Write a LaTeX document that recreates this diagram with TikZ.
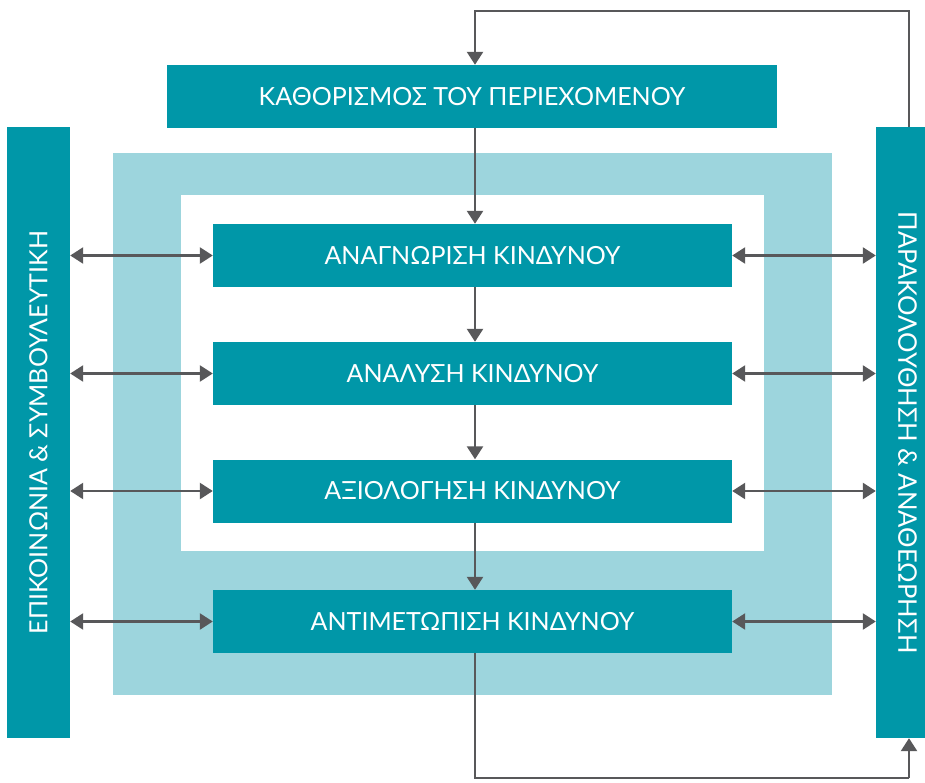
\documentclass[tikz,border=0pt]{standalone}
\usepackage{fontspec}
\setmainfont{Lato}
\usetikzlibrary{arrows.meta}
\definecolor{teal1}{RGB}{0,151,168}
\definecolor{tealpale}{RGB}{157,213,221}
\definecolor{linegray}{RGB}{88,88,90}
\begin{document}
\begin{tikzpicture}[x=1pt,y=-1pt,
  stepbox/.style={fill=teal1,text=white,minimum width=519pt,minimum height=63pt,inner sep=0pt,font=\fontsize{25}{28}\selectfont},
  sidebar/.style={fill=teal1,text=white,minimum width=611pt,minimum height=63pt,inner sep=0pt,font=\fontsize{25}{28}\selectfont},
  flow/.style={draw=linegray,line width=2.5pt,-{Triangle[width=16pt,length=13pt]}},
  link/.style={draw=linegray,line width=2.5pt,{Triangle[width=16pt,length=13pt]}-{Triangle[width=16pt,length=13pt]}},
  loopline/.style={draw=linegray,line width=2.5pt}]
\useasboundingbox (0,0) rectangle (925,783);
\fill[white] (0,0) rectangle (925,783);
% framing bands
\fill[tealpale] (113,153) rectangle (832,695);
\fill[white] (181,195) rectangle (764,551);
% main blocks
\node[stepbox,minimum width=610pt] (ctx) at (472,96.5) {ΚΑΘΟΡΙΣΜΟΣ ΤΟΥ ΠΕΡΙΕΧΟΜΕΝΟΥ};
\node[stepbox] (s1) at (472.5,255.5) {ΑΝΑΓΝΩΡΙΣΗ ΚΙΝΔΥΝΟΥ};
\node[stepbox] (s2) at (472.5,373.5) {ΑΝΑΛΥΣΗ ΚΙΝΔΥΝΟΥ};
\node[stepbox] (s3) at (472.5,491) {ΑΞΙΟΛΟΓΗΣΗ ΚΙΝΔΥΝΟΥ};
\node[stepbox] (s4) at (472.5,621.5) {ΑΝΤΙΜΕΤΩΠΙΣΗ ΚΙΝΔΥΝΟΥ};
% side bars
\node[sidebar,rotate=90] (lbar) at (38.5,432.5) {ΕΠΙΚΟΙΝΩΝΙΑ \& ΣΥΜΒΟΥΛΕΥΤΙΚΗ};
\node[sidebar,rotate=-90,font=\fontsize{25.6}{28}\selectfont] (rbar) at (907.5,432.5) {ΠΑΡΑΚΟΛΟΥΘΗΣΗ \& ΑΝΑΘΕΩΡΗΣΗ};
% routing points
\coordinate (col) at (475,0);
\coordinate (ur) at (909,11);
\coordinate (ul) at (475,11);
\coordinate (ll) at (475,778);
\coordinate (lr) at (909,778);
% vertical flow
\draw[flow] (ctx.south -| col) -- (s1.north -| col);
\draw[flow] (s1.south -| col) -- (s2.north -| col);
\draw[flow] (s2.south -| col) -- (s3.north -| col);
\draw[flow] (s3.south -| col) -- (s4.north -| col);
% feedback loop
\draw[flow] (rbar.west -| ur) -- (ur) -- (ul) -- (ctx.north -| ul);
\draw[loopline] (s4.south -| ll) -- (ll) -- (lr);
\draw[flow] (lr) -- (rbar.east -| lr);
% links to side bars
\foreach \s in {s1,s2,s3,s4}{
  \draw[link] (lbar.south |- \s.west) -- (\s.west);
  \draw[link] (\s.east) -- (rbar.south |- \s.east);
}
\end{tikzpicture}
\end{document}
